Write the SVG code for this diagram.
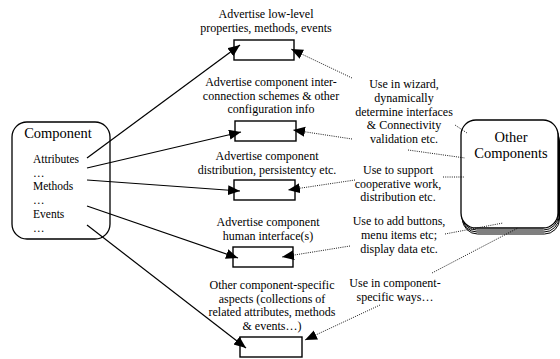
<svg xmlns="http://www.w3.org/2000/svg" width="560" height="359" viewBox="0 0 560 359">
  <style>
    text { fill: #000; }
    .lbl { font-size: 12px; text-anchor: middle; }
    .item { font-size: 11.5px; }
    .title { font-size: 14.5px; text-anchor: middle; }
    .box { fill: #fff; stroke: #000; stroke-width: 1.4; }
    .solid { fill: none; stroke: #000; stroke-width: 1.2; }
    .dot { fill: none; stroke: #000; stroke-width: 0.9; stroke-dasharray: 1 1.2; }
  </style>
  <defs>
    <marker id="head" markerUnits="userSpaceOnUse" markerWidth="13" markerHeight="11" refX="12" refY="5" orient="auto">
      <path d="M0,0 L12,5 L0,10 z" fill="#000"/>
    </marker>
  </defs>

  <g font-family="'Liberation Serif', 'Times New Roman', 'DejaVu Serif', serif">
  <!-- source component -->
  <g id="component">
    <rect x="12" y="122" width="98" height="117" rx="15" ry="15" fill="#fff" stroke="#000" stroke-width="1.3"/>
    <text class="title" x="58" y="138">Component</text>
    <text class="item" x="33" y="163">Attributes</text>
    <text class="item" x="33" y="177">…</text>
    <text class="item" x="33" y="190">Methods</text>
    <text class="item" x="33" y="204">…</text>
    <text class="item" x="33" y="218">Events</text>
    <text class="item" x="33" y="232">…</text>
  </g>

  <!-- stacked other components -->
  <g id="other-components">
    <rect x="462.5" y="126" width="97" height="108" rx="15" ry="15" fill="#fff" stroke="#000" stroke-width="1"/>
    <rect x="462" y="124" width="97" height="108" rx="15" ry="15" fill="#fff" stroke="#000" stroke-width="1"/>
    <rect x="461.5" y="122" width="97" height="108" rx="15" ry="15" fill="#fff" stroke="#000" stroke-width="1"/>
    <rect x="461" y="120" width="97" height="108" rx="15" ry="15" fill="#fff" stroke="#000" stroke-width="1.3"/>
    <text class="title" x="511" y="142">Other</text>
    <text class="title" x="511" y="158">Components</text>
  </g>

  <!-- advertised aspects -->
  <g id="aspect-lowlevel">
    <text class="lbl" x="266" y="18">Advertise low-level</text>
    <text class="lbl" x="266" y="32">properties, methods, events</text>
    <rect class="box" x="234" y="40" width="60" height="20"/>
  </g>
  <g id="aspect-interconnection">
    <text class="lbl" x="271" y="86">Advertise component inter-</text>
    <text class="lbl" x="271" y="99.5">connection schemes &amp; other</text>
    <text class="lbl" x="271" y="113">configuration info</text>
    <rect class="box" x="235" y="121" width="61" height="20"/>
  </g>
  <g id="aspect-distribution">
    <text class="lbl" x="267" y="160">Advertise component</text>
    <text class="lbl" x="267" y="174">distribution, persistentcy etc.</text>
    <rect class="box" x="234" y="180" width="61" height="20"/>
  </g>
  <g id="aspect-interface">
    <text class="lbl" x="268" y="226">Advertise component</text>
    <text class="lbl" x="268" y="240">human interface(s)</text>
    <rect class="box" x="233" y="247" width="60" height="20"/>
  </g>
  <g id="aspect-specific">
    <text class="lbl" x="272" y="289">Other component-specific</text>
    <text class="lbl" x="272" y="302.5">aspects (collections of</text>
    <text class="lbl" x="272" y="316">related attributes, methods</text>
    <text class="lbl" x="272" y="329.5">&amp; events…)</text>
    <rect class="box" x="240" y="337" width="62" height="20"/>
  </g>

  <!-- uses by other components -->
  <g id="use-wizard">
    <text class="lbl" x="404" y="88">Use in wizard,</text>
    <text class="lbl" x="404" y="102">dynamically</text>
    <text class="lbl" x="404" y="115.5">determine interfaces</text>
    <text class="lbl" x="404" y="129">&amp; Connectivity</text>
    <text class="lbl" x="404" y="142.5">validation etc.</text>
  </g>
  <g id="use-cooperative">
    <text class="lbl" x="398" y="174">Use to support</text>
    <text class="lbl" x="398" y="187.5">cooperative work,</text>
    <text class="lbl" x="398" y="201">distribution etc.</text>
  </g>
  <g id="use-ui">
    <text class="lbl" x="399" y="225">Use to add buttons,</text>
    <text class="lbl" x="399" y="239">menu items etc;</text>
    <text class="lbl" x="399" y="252.5">display data etc.</text>
  </g>
  <g id="use-specific">
    <text class="lbl" x="395" y="287">Use in component-</text>
    <text class="lbl" x="395" y="300.5">specific ways…</text>
  </g>
  </g>

  <!-- connectors -->
  <g id="connectors">
    <line class="solid" x1="87" y1="158" x2="240" y2="45" marker-end="url(#head)"/>
    <line class="solid" x1="87" y1="168" x2="241" y2="132" marker-end="url(#head)"/>
    <line class="solid" x1="87" y1="180" x2="240" y2="191" marker-end="url(#head)"/>
    <line class="solid" x1="87" y1="206" x2="238" y2="258" marker-end="url(#head)"/>
    <line class="solid" x1="87" y1="225" x2="246" y2="348" marker-end="url(#head)"/>

    <line class="dot" x1="352" y1="78" x2="291" y2="49" marker-end="url(#head)"/>
    <line class="dot" x1="352" y1="139" x2="293" y2="130" marker-end="url(#head)"/>
    <line class="dot" x1="355" y1="180" x2="288" y2="190" marker-end="url(#head)"/>
    <line class="dot" x1="350" y1="246" x2="282" y2="257" marker-end="url(#head)"/>
    <line class="dot" x1="380" y1="305" x2="305" y2="340" marker-end="url(#head)"/>

    <line class="dot" x1="455" y1="125" x2="467" y2="133"/>
    <line class="dot" x1="408" y1="150" x2="465" y2="158"/>
    <line class="dot" x1="443" y1="177" x2="465" y2="177"/>
    <line class="dot" x1="445" y1="234" x2="503" y2="223"/>
    <line class="dot" x1="432" y1="273" x2="518" y2="228"/>
  </g>
</svg>
